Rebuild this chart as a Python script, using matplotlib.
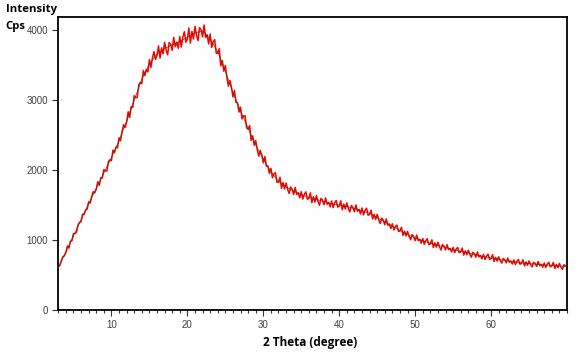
import matplotlib.pyplot as plt
from matplotlib.ticker import MultipleLocator

# smooth fitted curve, one value per degree (3..70)
fit_x = list(range(3, 71))
fit_y = [610, 830, 1060, 1290, 1520, 1740, 1960, 2180, 2420, 2700,
         3000, 3300, 3520, 3660, 3740, 3790, 3840, 3900, 3960, 3990,
         3880, 3690, 3420, 3110, 2850, 2600, 2360, 2160, 1980, 1840,
         1760, 1700, 1650, 1610, 1580, 1550, 1520, 1500, 1480, 1450,
         1420, 1380, 1320, 1260, 1200, 1140, 1080, 1030, 990, 955,
         925, 895, 865, 840, 815, 790, 765, 745, 725, 705,
         690, 675, 665, 655, 645, 638, 630, 620]

meas_x = [3 + 0.2 * i for i in range(336)]
meas_y = [
    625, 634, 706, 764, 774,        # 3
    822, 916, 886, 984, 990,        # 4
    1092, 1094, 1112, 1218, 1252,   # 5
    1262, 1372, 1366, 1432, 1442,   # 6
    1547, 1528, 1622, 1692, 1674,   # 7
    1730, 1834, 1783, 1892, 1886,   # 8
    2008, 1986, 1988, 2122, 2148,   # 9
    2135, 2286, 2250, 2330, 2320,   # 10
    2462, 2420, 2553, 2651, 2609,   # 11
    2685, 2835, 2752, 2910, 2895,   # 12
    3064, 3036, 3040, 3220, 3256,   # 13
    3237, 3425, 3352, 3441, 3404,   # 14
    3580, 3468, 3606, 3694, 3582,   # 15
    3640, 3776, 3602, 3748, 3664,   # 16
    3828, 3717, 3650, 3825, 3802,   # 17
    3713, 3899, 3766, 3831, 3742,   # 18
    3909, 3760, 3899, 3980, 3830,   # 19
    3876, 4032, 3816, 3984, 3876,   # 20
    4056, 3930, 3852, 4038, 4008,   # 21
    3906, 4076, 3898, 3936, 3806,   # 22
    3946, 3754, 3837, 3865, 3673,   # 23
    3670, 3736, 3492, 3568, 3414,   # 24
    3496, 3329, 3201, 3282, 3191,   # 25
    3047, 3139, 2970, 2963, 2830,   # 26
    2901, 2732, 2776, 2777, 2607,   # 27
    2583, 2637, 2427, 2490, 2357,   # 28
    2424, 2296, 2200, 2280, 2216,   # 29
    2104, 2196, 2056, 2060, 1952,   # 30
    2025, 1892, 1947, 1964, 1830,   # 31
    1825, 1899, 1740, 1822, 1731,   # 32
    1816, 1727, 1666, 1759, 1726,   # 33
    1651, 1753, 1652, 1677, 1604,   # 34
    1692, 1586, 1655, 1689, 1583,   # 35
    1596, 1674, 1535, 1620, 1544,   # 36
    1636, 1553, 1498, 1597, 1570,   # 37
    1504, 1603, 1512, 1539, 1474,   # 38
    1559, 1464, 1532, 1567, 1471,   # 39
    1487, 1561, 1433, 1514, 1445,   # 40
    1532, 1454, 1403, 1495, 1469,   # 41
    1404, 1503, 1412, 1439, 1374,   # 42
    1459, 1360, 1424, 1455, 1355,   # 43
    1368, 1428, 1302, 1368, 1296,   # 44
    1368, 1290, 1236, 1314, 1284,   # 45
    1218, 1302, 1212, 1230, 1164,   # 46
    1233, 1144, 1193, 1214, 1124,   # 47
    1129, 1183, 1066, 1126, 1059,   # 48
    1124, 1053, 1005, 1078, 1051,   # 49
    991, 1072, 992, 1012, 954,      # 50
    1023, 939, 993, 1019, 934,      # 51
    944, 1004, 893, 959, 898,       # 52
    969, 902, 858, 935, 912,        # 53
    860, 934, 863, 882, 831,        # 54
    895, 820, 870, 895, 820,        # 55
    830, 885, 785, 845, 790,        # 56
    855, 795, 755, 825, 805,        # 57
    755, 830, 760, 780, 730,        # 58
    795, 721, 772, 798, 724,        # 59
    735, 791, 692, 753, 699,        # 60
    761, 707, 672, 736, 718,        # 61
    673, 743, 681, 701, 657,        # 62
    717, 651, 698, 722, 655,        # 63
    666, 718, 630, 687, 640,        # 64
    701, 649, 616, 682, 666,        # 65
    623, 694, 633, 654, 611,        # 66
    672, 608, 656, 682, 617,        # 67
    629, 681, 594, 651, 605,        # 68
    666, 614, 581, 647, 631,        # 69
    620,                            # 70
]

x_major = [10, 20, 30, 40, 50, 60]
y_major = [0, 1000, 2000, 3000, 4000]

fig = plt.figure(figsize=(5.8, 3.57), dpi=100)
ax = fig.add_axes([0.1005, 0.1317, 0.8771, 0.8207])

ax.plot(meas_x, meas_y, color='#ff0000', lw=1.1, zorder=2)
ax.plot(fit_x, fit_y, color='#4a3a10', lw=0.7, alpha=0.7, zorder=3)

ax.set_xlim(3, 70)
ax.set_ylim(0, 4190)
ax.set_xticks(x_major)
ax.set_yticks(y_major)
ax.xaxis.set_minor_locator(MultipleLocator(1))
ax.tick_params(axis='both', which='major', length=4, width=0.8, color='#333333',
               labelsize=7, labelcolor='#404040')
ax.tick_params(axis='x', which='minor', length=2.5, width=0.8, color='#333333')
for lab in ax.get_xticklabels() + ax.get_yticklabels():
    lab.set_family('Liberation Sans')
for s in ax.spines.values():
    s.set_linewidth(1.3)
    s.set_color('black')

fig.text(0.01, 0.972, 'Intensity', fontsize=8.2, fontweight='bold',
         family='Open Sans', va='center', ha='left')
fig.text(0.01, 0.925, 'Cps', fontsize=8.2, fontweight='bold',
         family='Open Sans', va='center', ha='left')
fig.text(0.535, 0.04, '2 Theta (degree)', fontsize=8.5, fontweight='bold',
         family='Open Sans', va='center', ha='center')

fig.savefig('out.png', dpi=100, facecolor='white')
